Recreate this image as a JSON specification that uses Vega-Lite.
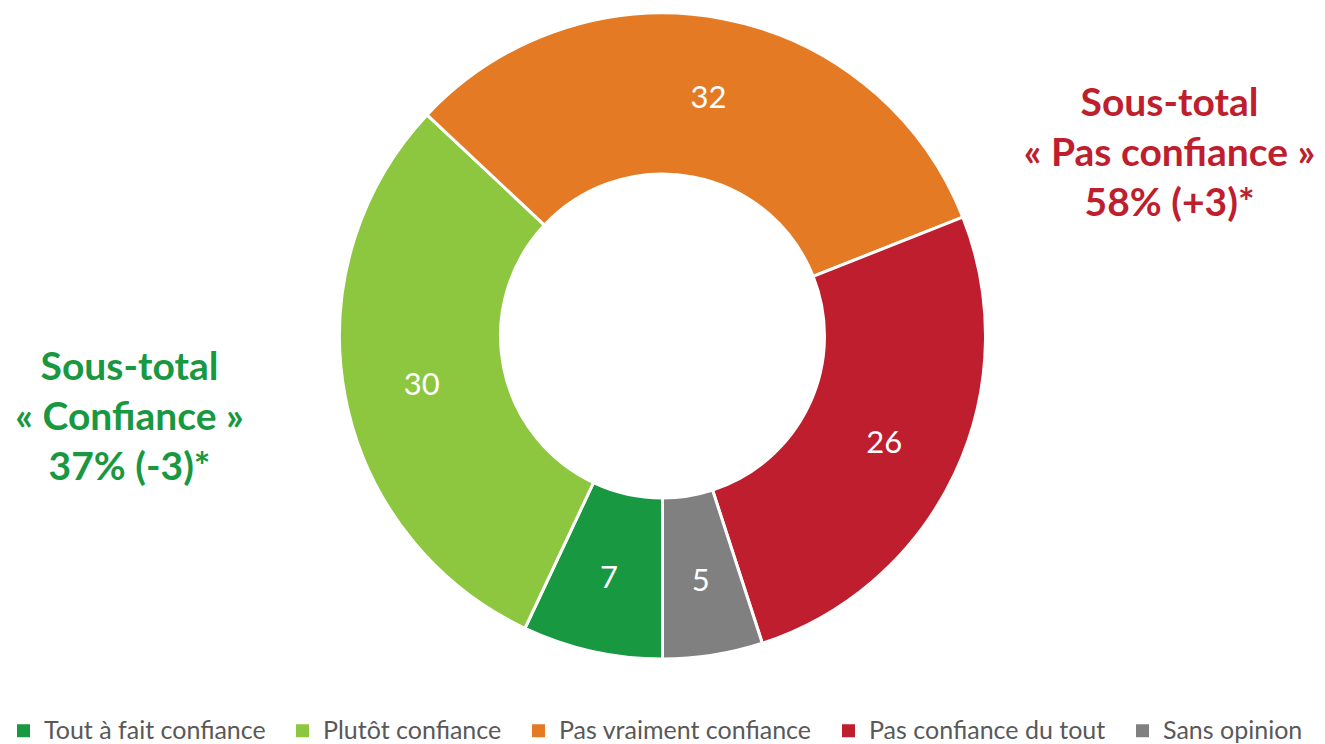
{
  "$schema": "https://vega.github.io/schema/vega-lite/v6.json",
  "width": 1325,
  "height": 672,
  "padding": 0,
  "autosize": {"type": "pad"},
  "background": "white",
  "config": {"view": {"stroke": null}, "font": "Lato"},
  "layer": [
    {
      "data": {"name": "donut", "values": [
        {"category": "Tout à fait confiance", "value": 7, "rank": 1},
        {"category": "Plutôt confiance", "value": 30, "rank": 2},
        {"category": "Pas vraiment confiance", "value": 32, "rank": 3},
        {"category": "Pas confiance du tout", "value": 26, "rank": 4},
        {"category": "Sans opinion", "value": 5, "rank": 5}
      ]},
      "layer": [
        {
          "mark": {"type": "arc", "innerRadius": 162, "outerRadius": 323, "stroke": "white", "strokeWidth": 3},
          "encoding": {
            "theta": {"field": "value", "type": "quantitative", "stack": true, "scale": {"range": [3.14159265, 9.42477796]}},
            "order": {"field": "rank", "type": "quantitative"},
            "color": {
              "field": "category", "type": "nominal",
              "scale": {
                "domain": ["Tout à fait confiance", "Plutôt confiance", "Pas vraiment confiance", "Pas confiance du tout", "Sans opinion"],
                "range": ["#179841", "#8dc63f", "#e57a25", "#be1e2d", "#808080"]
              },
              "legend": {
                "title": null, "orient": "none", "direction": "horizontal",
                "legendX": 11, "legendY": 718,
                "symbolType": "square", "symbolSize": 169, "symbolStrokeWidth": 0,
                "labelFontSize": 25, "labelColor": "#595959", "labelFont": "Lato",
                "labelOffset": 8, "columnPadding": 24, "labelLimit": 400
              }
            }
          }
        },
        {
          "mark": {"type": "text", "radius": 245, "fill": "white", "fontSize": 31, "align": "center", "baseline": "middle", "dy": 4},
          "encoding": {
            "theta": {"field": "value", "type": "quantitative", "stack": true},
            "order": {"field": "rank", "type": "quantitative"},
            "text": {"field": "value", "type": "quantitative"}
          }
        }
      ]
    },
    {
      "data": {"values": [{"lines": ["Sous-total", "« Confiance »", "37% (-3)*"]}]},
      "mark": {"type": "text", "dx": -533, "dy": 32, "fontSize": 39, "fontWeight": "bold", "fill": "#179841", "align": "center", "baseline": "middle", "lineHeight": 50},
      "encoding": {"text": {"field": "lines"}}
    },
    {
      "data": {"values": [{"lines": ["Sous-total", "« Pas confiance »", "58% (+3)*"]}]},
      "mark": {"type": "text", "dx": 507, "dy": -232, "fontSize": 39, "fontWeight": "bold", "fill": "#be1e2d", "align": "center", "baseline": "middle", "lineHeight": 50},
      "encoding": {"text": {"field": "lines"}}
    }
  ]
}
